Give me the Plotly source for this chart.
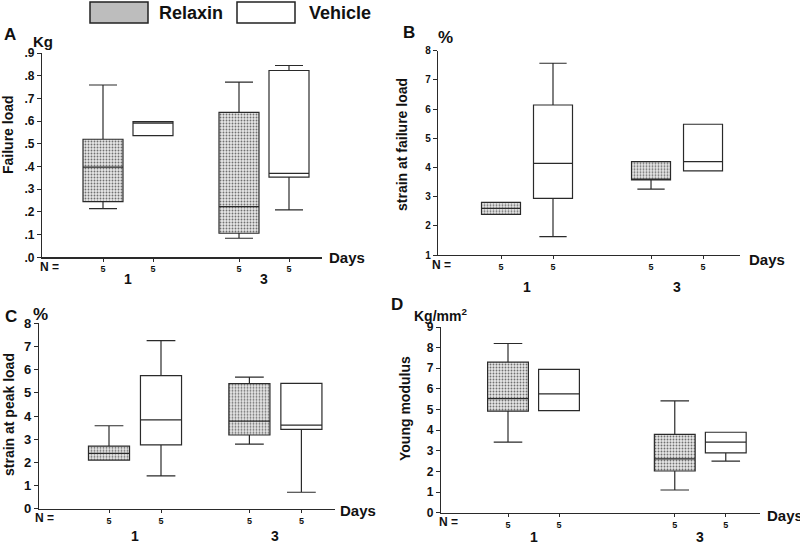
import plotly.graph_objects as go

# ---------------- data ----------------
days = ["1", "3"]
n_labels = ["5", "5", "5", "5"]
series_names = ["Relaxin", "Vehicle"]

# A: failure load (Kg)
failure_relaxin = dict(low=[0.214, 0.084], q1=[0.245, 0.106], med=[0.397, 0.223], q3=[0.520, 0.638], high=[0.759, 0.772])
failure_vehicle = dict(low=[0.536, 0.209], q1=[0.536, 0.353], med=[0.591, 0.370], q3=[0.598, 0.823], high=[0.598, 0.845])
# B: strain at failure load (%)
strainf_relaxin = dict(low=[2.39, 3.26], q1=[2.39, 3.57], med=[2.60, 3.57], q3=[2.80, 4.20], high=[2.80, 4.20])
strainf_vehicle = dict(low=[1.63, 3.88], q1=[2.94, 3.88], med=[4.14, 4.20], q3=[6.14, 5.48], high=[7.57, 5.48])
# C: strain at peak load (%)
strainp_relaxin = dict(low=[2.10, 2.79], q1=[2.10, 3.18], med=[2.39, 3.78], q3=[2.70, 5.40], high=[3.58, 5.68])
strainp_vehicle = dict(low=[1.42, 0.71], q1=[2.75, 3.42], med=[3.83, 3.61], q3=[5.74, 5.41], high=[7.25, 5.41])
# D: Young modulus (Kg/mm2)
young_relaxin = dict(low=[3.42, 1.10], q1=[4.92, 2.02], med=[5.53, 2.61], q3=[7.30, 3.80], high=[8.20, 5.42])
young_vehicle = dict(low=[4.95, 2.50], q1=[4.95, 2.90], med=[5.76, 3.42], q3=[6.95, 3.90], high=[6.95, 3.90])

yticks_A = [0, .1, .2, .3, .4, .5, .6, .7, .8, .9]
ytext_A = [".0", ".1", ".2", ".3", ".4", ".5", ".6", ".7", ".8", ".9"]
yticks_B = [1, 2, 3, 4, 5, 6, 7, 8]
yticks_C = [0, 1, 2, 3, 4, 5, 6, 7, 8]
yticks_D = [0, 1, 2, 3, 4, 5, 6, 7, 8, 9]

# ---------------- layout helpers ----------------
W, H = 800, 544
def fx(p): return p / W
def fy(p): return 1 - p / H

FONT = "Liberation Sans, Arial, sans-serif"
INK = "#2a2a2a"

panels = [
    dict(letter="A", rel=failure_relaxin, veh=failure_vehicle, xd=(42, 322), yd=(53, 257.3), yr=(0, 0.9),
         yt=yticks_A, ytt=ytext_A, org=103, unit=50, gap=2.72, bw=0.8, tfs=12,
         title="Failure load", tpos=(8, 135), unit_lbl="Kg", upos=(43, 42), ufs=15, lpos=(10, 34),
         days_pos=(347, 257), n_pos=(49, 267), dy=279),
    dict(letter="B", rel=strainf_relaxin, veh=strainf_vehicle, xd=(438, 740), yd=(50.7, 255), yr=(1, 8),
         yt=yticks_B, ytt=[str(v) for v in yticks_B], org=501, unit=52, gap=2.885, bw=0.75, tfs=10,
         title="strain at failure load", tpos=(402, 144), unit_lbl="%", upos=(445, 38), ufs=17, lpos=(409, 32),
         days_pos=(767, 259), n_pos=(441, 265), dy=287),
    dict(letter="C", rel=strainp_relaxin, veh=strainp_vehicle, xd=(39, 335), yd=(323.3, 508.7), yr=(0, 8),
         yt=yticks_C, ytt=[str(v) for v in yticks_C], org=109, unit=52, gap=2.70, bw=0.79, tfs=13,
         title="strain at peak load", tpos=(9, 415), unit_lbl="%", upos=(40, 314), ufs=17, lpos=(11, 316),
         days_pos=(358, 510), n_pos=(44, 518), dy=536),
    dict(letter="D", rel=young_relaxin, veh=young_vehicle, xd=(441, 760), yd=(327, 512.7), yr=(0, 9),
         yt=yticks_D, ytt=[str(v) for v in yticks_D], org=508, unit=51, gap=3.27, bw=0.8, tfs=12,
         title="Young modulus", tpos=(405, 409), unit_lbl="Kg/mm<sup>2</sup>", upos=(440, 315), ufs=14,
         lpos=(397, 304), days_pos=(785, 515), n_pos=(448, 522), dy=537),
]

fig = go.Figure()
annotations = []
layout_axes = {}

for i, p in enumerate(panels):
    k = "" if i == 0 else str(i + 1)
    xa, ya = "x" + k, "y" + k
    pos_rel = [0, p["gap"]]
    pos_veh = [1, 1 + p["gap"]]
    rel, veh = p["rel"], p["veh"]

    # stippled fill for Relaxin boxes
    fig.add_trace(go.Bar(
        x=pos_rel, y=[b - a for a, b in zip(rel["q1"], rel["q3"])], base=rel["q1"],
        width=p["bw"], xaxis=xa, yaxis=ya, showlegend=False, hoverinfo="skip",
        marker=dict(color="#e2e2e2", line=dict(width=0),
                    pattern=dict(shape=".", fgcolor="#707070", bgcolor="#e6e6e6", size=3, solidity=0.3))))

    for pos, s in ((pos_rel, rel), (pos_veh, veh)):
        fig.add_trace(go.Box(
            x=pos, q1=s["q1"], median=s["med"], q3=s["q3"], lowerfence=s["low"], upperfence=s["high"],
            width=p["bw"], whiskerwidth=0.7, boxpoints=False, xaxis=xa, yaxis=ya,
            fillcolor="rgba(0,0,0,0)", line=dict(color=INK, width=1.2), showlegend=False, hoverinfo="skip"))

    x0 = (p["xd"][0] - p["org"]) / p["unit"]
    x1 = (p["xd"][1] - p["org"]) / p["unit"]
    tick_pos = [0, 1, p["gap"], 1 + p["gap"]]
    layout_axes["xaxis" + k] = dict(
        domain=[fx(p["xd"][0]), fx(p["xd"][1])], range=[x0, x1], anchor=ya, automargin=False,
        showline=True, linecolor=INK, linewidth=1.2, ticks="outside", ticklen=3, tickcolor=INK,
        tickvals=tick_pos, ticktext=n_labels, showgrid=False, zeroline=False,
        tickfont=dict(family=FONT, size=9, color="#111", weight="bold"), fixedrange=True)
    layout_axes["yaxis" + k] = dict(
        domain=[fy(p["yd"][1]), fy(p["yd"][0])], range=list(p["yr"]), anchor=xa, automargin=False,
        showline=True, linecolor=INK, linewidth=1.2, ticks="outside", ticklen=4, tickcolor=INK,
        tickvals=p["yt"], ticktext=p["ytt"], showgrid=False, zeroline=False,
        tickfont=dict(family=FONT, size=p["tfs"], color="#111", weight="bold"), fixedrange=True)

    def ann(text, x, y, size, **kw):
        d = dict(text=text, x=fx(x), y=fy(y), xref="paper", yref="paper", showarrow=False,
                 font=dict(family=FONT, size=size, color="#111", weight="bold"),
                 xanchor="center", yanchor="middle")
        d.update(kw)
        annotations.append(d)

    ann(p["letter"], p["lpos"][0], p["lpos"][1], 17)
    ann(p["unit_lbl"], p["upos"][0], p["upos"][1], p["ufs"])
    ann(p["title"], p["tpos"][0], p["tpos"][1], 14, textangle=-90)
    ann("Days", p["days_pos"][0], p["days_pos"][1], 15)
    ann("N =", p["n_pos"][0], p["n_pos"][1], 12)
    for d_i, d_lbl in enumerate(days):
        mid = d_i * p["gap"] + 0.5
        annotations.append(dict(text=d_lbl, x=mid, y=fy(p["dy"]), xref=xa, yref="paper", showarrow=False,
                                font=dict(family=FONT, size=14, color="#111", weight="bold"),
                                xanchor="center", yanchor="middle"))

# legend (drawn manually)
shapes = [
    dict(type="rect", xref="paper", yref="paper", x0=fx(90), x1=fx(148), y0=fy(23), y1=fy(2),
         fillcolor="#bdbdbd", line=dict(color="#222", width=1.5)),
    dict(type="rect", xref="paper", yref="paper", x0=fx(237), x1=fx(295), y0=fy(23), y1=fy(2),
         fillcolor="white", line=dict(color="#222", width=1.5)),
]
annotations.append(dict(text=series_names[0], x=fx(191), y=fy(13), xref="paper", yref="paper", showarrow=False,
                        xanchor="center", yanchor="middle",
                        font=dict(family=FONT, size=18, color="#111", weight="bold")))
annotations.append(dict(text=series_names[1], x=fx(340), y=fy(13), xref="paper", yref="paper", showarrow=False,
                        xanchor="center", yanchor="middle",
                        font=dict(family=FONT, size=18, color="#111", weight="bold")))

fig.update_layout(
    template="none",
    width=W, height=H, margin=dict(l=0, r=0, t=0, b=0, pad=0, autoexpand=False),
    paper_bgcolor="white", plot_bgcolor="white",
    barmode="overlay", boxmode="overlay", showlegend=False,
    font=dict(family=FONT, color="#111"),
    annotations=annotations, shapes=shapes, **layout_axes)

fig.write_html("out.html", config={"displayModeBar": False, "staticPlot": True},
               post_script="document.body.style.margin='0';document.body.style.padding='0';")
